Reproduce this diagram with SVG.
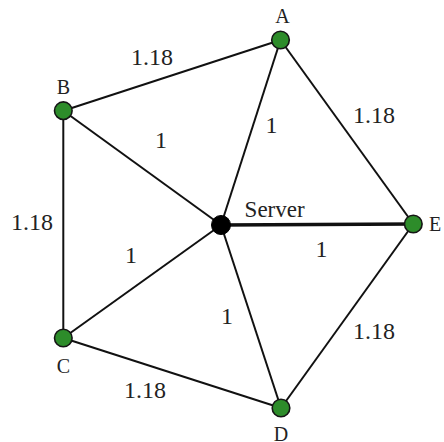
<svg xmlns="http://www.w3.org/2000/svg" width="444" height="442" viewBox="0 0 444 442">
<style>
.edge{stroke:#111;stroke-width:2;fill:none}
.thick{stroke-width:3.4}
.node{fill:#2d8c2a;stroke:#151515;stroke-width:1.6}
.srv{fill:#000;stroke:#000;stroke-width:1}
</style>
<rect width="444" height="442" fill="#fff"/>
<g id="connectors">
<line class="edge" x1="63.3" y1="110.7" x2="280.5" y2="40"/>
<line class="edge" x1="63.3" y1="110.7" x2="63.3" y2="338"/>
<line class="edge" x1="63.3" y1="338" x2="281" y2="408"/>
<line class="edge" x1="281" y1="408" x2="413.3" y2="224"/>
<line class="edge" x1="280.5" y1="40" x2="413.3" y2="224"/>
<line class="edge" x1="221" y1="225" x2="280.5" y2="40"/>
<line class="edge" x1="221" y1="225" x2="63.3" y2="110.7"/>
<line class="edge" x1="221" y1="225" x2="63.3" y2="338"/>
<line class="edge" x1="221" y1="225" x2="281" y2="408"/>
<line class="edge thick" x1="221" y1="225" x2="413.3" y2="224"/>
<g font-family="Liberation Serif" font-size="24" text-anchor="middle" fill="#222">
<text x="152" y="65">1.18</text>
<text x="32" y="230">1.18</text>
<text x="145" y="397.7">1.18</text>
<text x="374" y="123.3">1.18</text>
<text x="374" y="339.3">1.18</text>
<text x="161" y="148">1</text>
<text x="271.5" y="133.3">1</text>
<text x="131" y="262.7">1</text>
<text x="227" y="324.3">1</text>
<text x="321.5" y="257">1</text>
</g>
</g>
<g id="server">
<circle class="srv" cx="221" cy="225" r="9.5"/>
<text x="244.6" y="216.7" font-family="Liberation Serif" font-size="23" fill="#222">Server</text>
</g>
<g font-family="Liberation Serif" font-size="20" text-anchor="middle" fill="#222">
<g id="A">
<circle class="node" cx="280.5" cy="40" r="8.8"/>
<text x="282.5" y="22.7">A</text>
</g>
<g id="B">
<circle class="node" cx="63.3" cy="110.7" r="8.8"/>
<text x="63.3" y="94">B</text>
</g>
<g id="C">
<circle class="node" cx="63.3" cy="338" r="8.8"/>
<text x="63.3" y="373">C</text>
</g>
<g id="D">
<circle class="node" cx="281" cy="408" r="8.8"/>
<text x="281" y="441">D</text>
</g>
<g id="E">
<circle class="node" cx="413.3" cy="224" r="8.8"/>
<text x="429" y="230.5" text-anchor="start">E</text>
</g>
</g>
</svg>
